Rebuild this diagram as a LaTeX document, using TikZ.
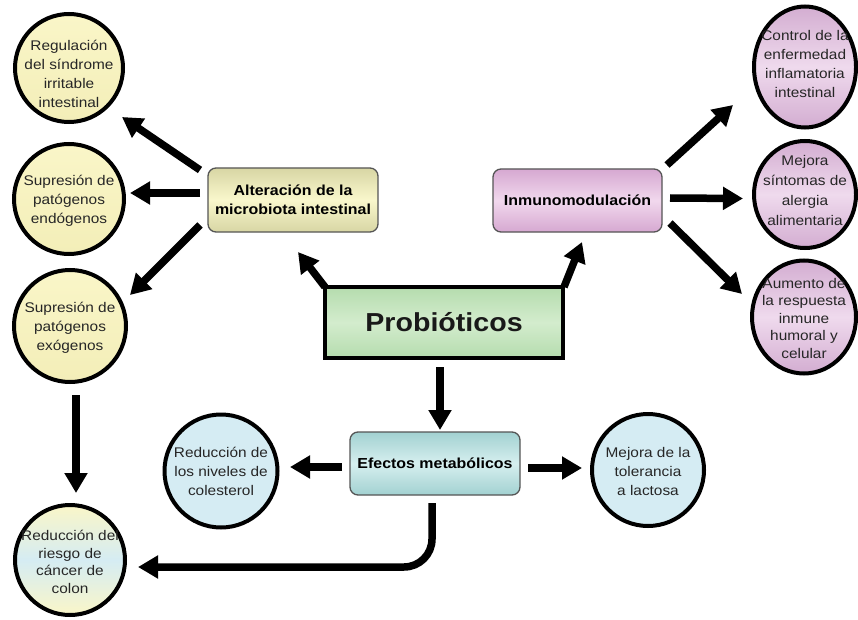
\documentclass[tikz,border=0pt]{standalone}
\usepackage{fontspec}
\setmainfont{Liberation Sans}[FakeStretch=1.1]
\usetikzlibrary{arrows.meta,shapes.geometric}
\definecolor{txt}{HTML}{262626}
\definecolor{cyellow}{HTML}{FAF6C8}
\definecolor{cyellowd}{HTML}{F3EEB8}
\definecolor{cblue}{HTML}{D5ECF3}
\definecolor{plight}{HTML}{EFDAED}
\definecolor{pdark}{HTML}{D3ADD1}
\definecolor{glight}{HTML}{D3ECCD}
\definecolor{gdark}{HTML}{B5DCAE}
\definecolor{olight}{HTML}{F9F7CC}
\definecolor{odark}{HTML}{D8D6A4}
\definecolor{mlight}{HTML}{F1D8ED}
\definecolor{mdark}{HTML}{D6A8D1}
\definecolor{tlight}{HTML}{D6EFEF}
\definecolor{tdark}{HTML}{A2D1D1}
\definecolor{boxline}{HTML}{555555}
\begin{document}
\begin{tikzpicture}[x=1pt,y=1pt,
  circbase/.style={draw=black, line width=4pt, inner sep=0pt, outer sep=0pt},
  ycirc/.style={circbase, circle, top color=cyellow, bottom color=cyellowd},
  bcirc/.style={circbase, circle, fill=cblue},
  mixcirc/.style={circbase, circle, top color=cyellow, bottom color=cyellow, middle color=cblue},
  pcirc/.style={circbase, ellipse, top color=pdark, bottom color=pdark, middle color=plight},
  ctext/.style={align=center, text=txt, inner sep=0pt, font=\fontsize{14pt}{19pt}\selectfont},
  ctextt/.style={ctext, font=\fontsize{14pt}{17.5pt}\selectfont},
  rbox/.style={rounded corners=8pt, draw=boxline, line width=1.3pt, align=center, inner sep=0pt, text=black, font=\bfseries\fontsize{14.5pt}{19pt}\selectfont},
  arr/.style={line width=7.5pt, -{Triangle[width=22pt,length=20pt]}}
]
\useasboundingbox (0,0) rectangle (858,-620);

% circles
\node[ycirc, minimum size=108pt] (c1) at (69,-68) {};
\node[ctext] (t1) at (69,-74) {Regulación\\del síndrome\\irritable\\intestinal};
\node[ycirc, minimum size=110pt] (c2) at (69,-199) {};
\node[ctext] (t2) at (69,-201) {Supresión de\\patógenos\\endógenos};
\node[ycirc, minimum size=112pt] (c3) at (70,-326) {};
\node[ctext] (t3) at (70,-328) {Supresión de\\patógenos\\exógenos};
\node[mixcirc, minimum size=110pt] (c4) at (70,-560) {};
\node[ctextt] (t4) at (70,-562) {Reducción del\\riesgo de\\cáncer de\\colon};

\node[pcirc, minimum width=102pt, minimum height=121pt] (c5) at (805,-67) {};
\node[ctext] (t5) at (805,-64) {Control de la\\enfermedad\\inflamatoria\\intestinal};
\node[pcirc, minimum width=102pt, minimum height=107pt] (c6) at (805,-194.5) {};
\node[ctext, font=\fontsize{14pt}{20pt}\selectfont] (t6) at (805,-190) {Mejora\\síntomas de\\alergia\\alimentaria};
\node[pcirc, minimum width=104pt, minimum height=113pt] (c7) at (804,-317) {};
\node[ctextt] (t7) at (804,-318) {Aumento de\\la respuesta\\inmune\\humoral y\\celular};

\node[bcirc, minimum size=113pt] (c8) at (221,-471) {};
\node[ctext] (t8) at (221,-471) {Reducción de\\los niveles de\\colesterol};
\node[bcirc, minimum size=112pt] (c9) at (648,-470) {};
\node[ctext] (t9) at (648,-471) {Mejora de la\\tolerancia\\a lactosa};

% boxes
\node[rbox, top color=odark, bottom color=odark, middle color=olight, minimum width=170pt, minimum height=64pt] (alt) at (293,-200) {Alteración de la\\microbiota intestinal};
\node[rbox, top color=mdark, bottom color=mdark, middle color=mlight, minimum width=169pt, minimum height=63pt] (inm) at (577.5,-200.5) {Inmunomodulación};
\node[rbox, top color=tdark, bottom color=tdark, middle color=tlight, minimum width=170pt, minimum height=63pt] (efe) at (435,-463.5) {Efectos metabólicos};
\node[draw=black, line width=4.5pt, top color=gdark, bottom color=gdark, middle color=glight, minimum width=238pt, minimum height=71pt, inner sep=0pt, font=\bfseries\fontsize{26pt}{30pt}\selectfont, text=black!90] (pro) at (444,-322.5) {Probióticos};

% arrows
\draw[arr] ([shift={(-93,30)}]alt.center) -- ([shift={(53,-49)}]c1.center);
\draw[arr] ([shift={(-93,7)}]alt.center) -- ([shift={(61,6)}]c2.center);
\draw[arr] ([shift={(-93,-25)}]alt.center) -- ([shift={(60,31)}]c3.center);
\draw[arr] ([shift={(6,-69)}]c3.center) -- ([shift={(6,67)}]c4.center);
\draw[arr] ([shift={(-119,35.5)}]pro.center) -- ([shift={(5,-52)}]alt.center);
\draw[arr] ([shift={(120,35.5)}]pro.center) -- ([shift={(4.5,-41.5)}]inm.center);
\draw[arr] ([shift={(-4,-44.5)}]pro.center) -- ([shift={(5,33.5)}]efe.center);
\draw[arr] ([shift={(89.5,35.5)}]inm.center) -- ([shift={(-72,-38)}]c5.center);
\draw[arr] ([shift={(92.5,2.5)}]inm.center) -- ([shift={(-62,-4)}]c6.center);
\draw[arr] ([shift={(92.5,-22.5)}]inm.center) -- ([shift={(-62,23)}]c7.center);
\draw[arr] ([shift={(-93,-3.5)}]efe.center) -- ([shift={(69,4)}]c8.center);
\draw[arr] ([shift={(93,-4.5)}]efe.center) -- ([shift={(-66,2)}]c9.center);
\draw[arr, rounded corners=28pt] ([shift={(-3,-39.5)}]efe.center) |- ([shift={(68,-7)}]c4.center);
\end{tikzpicture}
\end{document}
